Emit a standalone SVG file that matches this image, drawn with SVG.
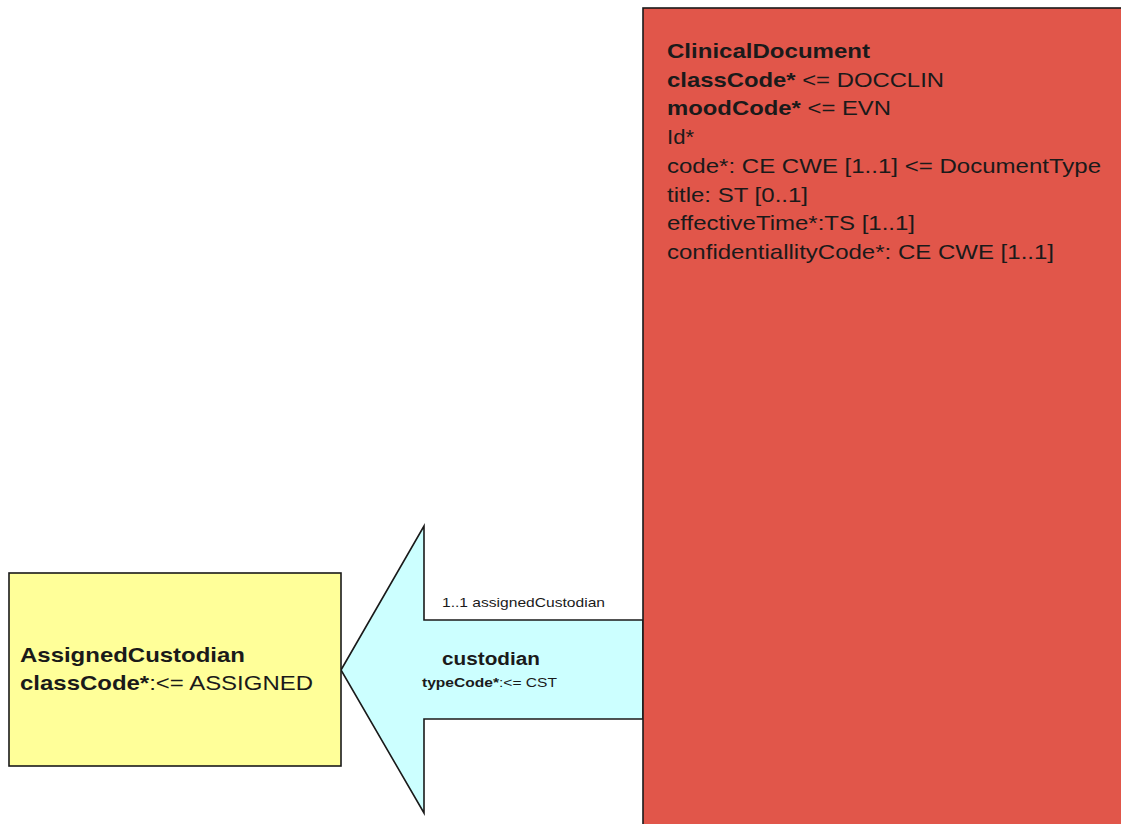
<svg xmlns="http://www.w3.org/2000/svg" width="1121" height="824" viewBox="0 0 1121 824">
<style>
.box{stroke:#1a1a1a;stroke-width:1.6}
.t{font-family:"Liberation Sans",Arial,sans-serif;fill:#1a1a1a}
.b{font-weight:bold}
.big{font-size:21px}
.sm{font-size:13.5px}
.md{font-size:18px}
</style>
<rect width="1121" height="824" fill="#ffffff"/>
<g id="connectors">
<polygon class="box" fill="#ccffff" points="341,670 424,526 424,620 643,620 643,719 424,719 424,813"/>
<text class="t sm" x="442" y="607" textLength="163" lengthAdjust="spacingAndGlyphs">1..1 assignedCustodian</text>
<text class="t md b" x="442" y="665" textLength="98" lengthAdjust="spacingAndGlyphs">custodian</text>
<text class="t sm" x="422" y="687" textLength="135" lengthAdjust="spacingAndGlyphs"><tspan class="b">typeCode*</tspan>:&lt;= CST</text>
</g>
<g id="ClinicalDocument">
<rect class="box" x="643" y="8" width="520" height="840" fill="#e1564a"/>
<text class="t big b" x="667" y="58" textLength="203" lengthAdjust="spacingAndGlyphs">ClinicalDocument</text>
<text class="t big" x="667" y="86.7" textLength="277" lengthAdjust="spacingAndGlyphs"><tspan class="b">classCode*</tspan> &lt;= DOCCLIN</text>
<text class="t big" x="667" y="115.4" textLength="224" lengthAdjust="spacingAndGlyphs"><tspan class="b">moodCode*</tspan> &lt;= EVN</text>
<text class="t big" x="667" y="144.1" textLength="27" lengthAdjust="spacingAndGlyphs">Id*</text>
<text class="t big" x="667" y="172.8" textLength="434" lengthAdjust="spacingAndGlyphs">code*: CE CWE [1..1] &lt;= DocumentType</text>
<text class="t big" x="667" y="201.5" textLength="141" lengthAdjust="spacingAndGlyphs">title: ST [0..1]</text>
<text class="t big" x="667" y="230.2" textLength="248" lengthAdjust="spacingAndGlyphs">effectiveTime*:TS [1..1]</text>
<text class="t big" x="667" y="258.9" textLength="387" lengthAdjust="spacingAndGlyphs">confidentiallityCode*: CE CWE [1..1]</text>
</g>
<g id="AssignedCustodian">
<rect class="box" x="9" y="573" width="332" height="193" fill="#ffff99"/>
<text class="t big b" x="20" y="662" textLength="225" lengthAdjust="spacingAndGlyphs">AssignedCustodian</text>
<text class="t big" x="20" y="690" textLength="293" lengthAdjust="spacingAndGlyphs"><tspan class="b">classCode*</tspan>:&lt;= ASSIGNED</text>
</g>
</svg>
